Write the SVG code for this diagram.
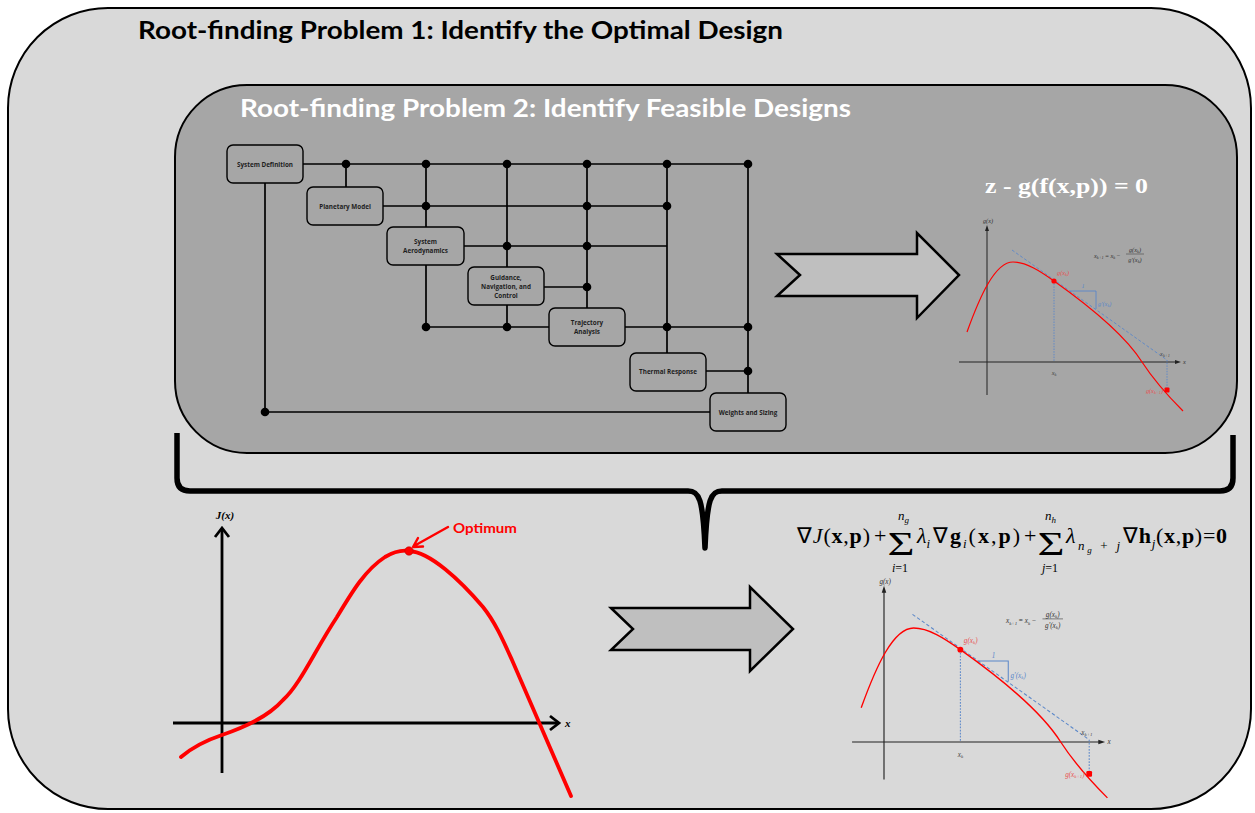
<svg xmlns="http://www.w3.org/2000/svg" xmlns:xlink="http://www.w3.org/1999/xlink" width="1255" height="813" viewBox="0 0 1255 813">
<style>
.frame{stroke:#000;stroke-width:2}
.title{font-family:Lato,"Open Sans",sans-serif;font-weight:bold;font-size:24px}
.node rect{fill:#a6a6a6;stroke:#000;stroke-width:1.4}
.node text{font-family:"Open Sans","Liberation Sans",sans-serif;font-weight:bold;font-size:6.3px;fill:#1e1e1e;text-anchor:middle}
.wire{fill:none;stroke:#000;stroke-width:1.7}
.dot{fill:#000}
.block{fill:#bfbfbf;stroke:#000;stroke-width:2.5;stroke-linejoin:miter}
.ser{font-family:"Liberation Serif",serif}
.gl{font-family:"Liberation Serif",serif;font-style:italic;font-size:6.3px}
.blue{stroke:#5a87c9;fill:none;stroke-width:0.9}
</style>
<defs>
<g id="nr">
  <path d="M0,-133 V33 M-28,0 H190" stroke="#222" stroke-width="1" fill="none"/>
  <path d="M0,-137 L-2,-131 L2,-131 Z M194,0 L188,-2 L188,2 Z" fill="#222"/>
  <text class="gl" x="1" y="-139" fill="#333" text-anchor="middle">g(x)</text>
  <text class="gl" x="196" y="2" fill="#333">x</text>
  <path class="blue" d="M25,-112 L180,-2" stroke-dasharray="3,2"/>
  <path class="blue" d="M67,-81 V0 M180,-2 V28" stroke-dasharray="1.5,1.2"/>
  <path class="blue" d="M83,-71 H109 V-53" stroke-width="1.2"/>
  <text class="gl" x="96" y="-74" fill="#5a87c9" text-anchor="middle">1</text>
  <text class="gl" x="111" y="-56" fill="#5a87c9">g'(x<tspan font-size="4.3" dy="1">k</tspan><tspan dy="-1">)</tspan></text>
  <path d="M-20,-30 C-7,-66 8,-100 26,-100 C39,-100 53,-91 67,-81 C98,-59 138,-27 155,0 C168,20 183,36 196,49" fill="none" stroke="#ff0000" stroke-width="1.2"/>
  <circle cx="67" cy="-81" r="2.6" fill="#ff0000"/>
  <rect x="177.5" y="25.5" width="5" height="5" rx="1" fill="#ff0000"/>
  <text class="gl" x="70" y="-87" fill="#e85050">g(x<tspan font-size="4.3" dy="1">k</tspan><tspan dy="-1">)</tspan></text>
  <text class="gl" x="67" y="13" fill="#444" text-anchor="middle">x<tspan font-size="4.3" dy="1">k</tspan></text>
  <text class="gl" x="178" y="-6" fill="#444" text-anchor="middle">x<tspan font-size="4.3" dy="1">k+1</tspan></text>
  <text class="gl" x="176" y="31" fill="#e85050" text-anchor="end">g(x<tspan font-size="4.3" dy="1">k+1</tspan><tspan dy="-1">)</tspan></text>
  <text class="gl" x="107" y="-104" fill="#333">x<tspan font-size="4.3" dy="1">k+1</tspan><tspan dy="-1" font-style="normal"> = </tspan>x<tspan font-size="4.3" dy="1">k</tspan><tspan dy="-1" font-style="normal"> −</tspan></text>
  <text class="gl" x="148" y="-110" fill="#333" text-anchor="middle">g(x<tspan font-size="4.3" dy="1">k</tspan><tspan dy="-1">)</tspan></text>
  <path d="M139,-108 H157" stroke="#333" stroke-width="0.5"/>
  <text class="gl" x="148" y="-100" fill="#333" text-anchor="middle">g'(x<tspan font-size="4.3" dy="1">k</tspan><tspan dy="-1">)</tspan></text>
</g>
</defs>

<g id="outer">
  <rect class="frame" x="8" y="8" width="1243" height="801" rx="100" ry="100" fill="#d9d9d9"/>
  <text class="title" x="138" y="39" fill="#000" textLength="645" lengthAdjust="spacingAndGlyphs">Root-finding Problem 1: Identify the Optimal Design</text>
</g>

<g id="inner">
  <rect class="frame" x="175" y="85" width="1062" height="368" rx="72" ry="72" fill="#a6a6a6"/>
  <text class="title" x="240" y="117" fill="#fff" textLength="611" lengthAdjust="spacingAndGlyphs">Root-finding Problem 2: Identify Feasible Designs</text>
</g>

<g id="connectors">
  <path class="wire" d="M303,164 H748 M346,164 V187 M383,206 H667 M426,164 V227 M426,265 V327 M464,246 H667 M507,164 V267 M507,305 V327 M544,287 H587 M587,164 V308 M426,327 H549 M625,327 H748 M667,164 V353 M706,371 H748 M748,164 V393 M265,183 V412 M265,412 H710"/>
  <g class="dot">
    <circle cx="346" cy="164" r="4.3"/><circle cx="426" cy="164" r="4.3"/><circle cx="507" cy="164" r="4.3"/><circle cx="587" cy="164" r="4.3"/><circle cx="667" cy="164" r="4.3"/><circle cx="748" cy="164" r="4.3"/>
    <circle cx="426" cy="206" r="4.3"/><circle cx="587" cy="206" r="4.3"/><circle cx="667" cy="206" r="4.3"/>
    <circle cx="507" cy="246" r="4.3"/><circle cx="587" cy="246" r="4.3"/>
    <circle cx="587" cy="287" r="4.3"/>
    <circle cx="426" cy="327" r="4.3"/><circle cx="507" cy="327" r="4.3"/><circle cx="667" cy="327" r="4.3"/><circle cx="748" cy="327" r="4.3"/>
    <circle cx="748" cy="371" r="4.3"/>
    <circle cx="265" cy="412" r="4.3"/>
  </g>
</g>

<g id="n-sysdef" class="node"><rect x="227" y="145" width="76" height="38" rx="6"/><text x="265" y="166.5">System Definition</text></g>
<g id="n-planet" class="node"><rect x="307" y="187" width="76" height="38" rx="6"/><text x="345" y="208.5">Planetary Model</text></g>
<g id="n-aero" class="node"><rect x="387" y="227" width="77" height="38" rx="6"/><text x="425.5" y="244">System</text><text x="425.5" y="253">Aerodynamics</text></g>
<g id="n-gnc" class="node"><rect x="468" y="267" width="76" height="38" rx="6"/><text x="506" y="279.5">Guidance,</text><text x="506" y="288.5">Navigation, and</text><text x="506" y="297.5">Control</text></g>
<g id="n-traj" class="node"><rect x="549" y="308" width="76" height="38" rx="6"/><text x="587" y="325">Trajectory</text><text x="587" y="334">Analysis</text></g>
<g id="n-thermal" class="node"><rect x="630" y="353" width="76" height="38" rx="6"/><text x="668" y="374">Thermal Response</text></g>
<g id="n-weights" class="node"><rect x="710" y="393" width="76" height="38" rx="6"/><text x="748" y="414.5">Weights and Sizing</text></g>

<g id="arrow-upper"><path class="block" d="M777,254 L800,275 L777,296 H917 V318 L959,275 L917,233 V254 Z"/></g>
<g id="arrow-lower"><path class="block" d="M611,608 L633,629 L611,650 H750 V671 L793,629 L750,587 V608 Z"/></g>

<g id="eq-upper">
  <text class="ser" x="985" y="193" font-size="22" font-weight="bold" fill="#fff" textLength="163" lengthAdjust="spacingAndGlyphs">z - g(f(x,p)) = 0</text>
</g>
<g id="graph-upper"><use xlink:href="#nr" href="#nr" transform="translate(987,362)"/></g>
<g id="graph-lower"><use xlink:href="#nr" href="#nr" transform="translate(884,742) scale(1.14)"/></g>

<g id="brace">
  <path d="M177,433 V478 Q177,491 190,491 H688 C699,491 703,498 705,548 C707,498 711,491 722,491 H1220 Q1233,491 1233,478 V435" fill="none" stroke="#000" stroke-width="5.5" stroke-linejoin="round" stroke-linecap="butt"/>
</g>

<g id="eq-lower" class="ser" fill="#000">
  <text x="797" y="543" font-size="22" textLength="73" lengthAdjust="spacing">∇<tspan font-style="italic">J</tspan>(<tspan font-weight="bold">x</tspan>,<tspan font-weight="bold">p</tspan>)</text>
  <text x="874" y="543" font-size="22">+</text>
  <text x="901" y="555" font-size="33" text-anchor="middle" textLength="27" lengthAdjust="spacingAndGlyphs">Σ</text>
  <text x="898" y="520" font-size="13" font-style="italic">n<tspan font-size="9" dy="3">g</tspan></text>
  <text x="900" y="572" font-size="12" text-anchor="middle"><tspan font-style="italic">i</tspan>=1</text>
  <text x="917" y="543" font-size="22" font-style="italic">λ<tspan font-size="13" dy="5">i</tspan></text>
  <text x="933" y="543" font-size="22" textLength="87" lengthAdjust="spacing">∇<tspan font-weight="bold">g</tspan><tspan font-size="13" font-style="italic" dy="5">i</tspan><tspan dy="-5">(</tspan><tspan font-weight="bold">x</tspan>,<tspan font-weight="bold">p</tspan>)</text>
  <text x="1024" y="543" font-size="22">+</text>
  <text x="1051" y="555" font-size="33" text-anchor="middle" textLength="27" lengthAdjust="spacingAndGlyphs">Σ</text>
  <text x="1045" y="520" font-size="13" font-style="italic">n<tspan font-size="9" dy="3">h</tspan></text>
  <text x="1050" y="572" font-size="12" text-anchor="middle"><tspan font-style="italic">j</tspan>=1</text>
  <text x="1066" y="543" font-size="22" font-style="italic">λ</text>
  <text x="1078" y="550" font-size="13" font-style="italic" textLength="42" lengthAdjust="spacing">n<tspan font-size="9" dy="3">g</tspan><tspan dy="-3" font-style="normal"> + </tspan>j</text>
  <text x="1123" y="543" font-size="22" textLength="104" lengthAdjust="spacing">∇<tspan font-weight="bold">h</tspan><tspan font-size="13" font-style="italic" dy="5">j</tspan><tspan dy="-5">(</tspan><tspan font-weight="bold">x</tspan>,<tspan font-weight="bold">p</tspan>)=<tspan font-weight="bold">0</tspan></text>
</g>

<g id="graph-objective">
  <path d="M222,530 V773 M173,723 H557" stroke="#000" stroke-width="2.8" fill="none"/>
  <path d="M215,537 L222,528 L229,537 M550,716 L559,723 L550,730" stroke="#000" stroke-width="2.8" fill="none"/>
  <text class="ser" x="225" y="519" font-size="11" font-weight="bold" font-style="italic" text-anchor="middle">J(x)</text>
  <text class="ser" x="565" y="727" font-size="11" font-weight="bold" font-style="italic">x</text>
  <path d="M181,757 C195,745 210,739 222,735 C245,727 268,717 283,700 C300,685 315,650 337,617 C352,592 365,570 385,557 C395,551 402,550 409,551 C430,552 460,580 483,607 C495,622 503,640 512,660 C525,690 545,735 571,796" fill="none" stroke="#ff0000" stroke-width="3.8" stroke-linecap="round"/>
  <circle cx="409" cy="551" r="4.2" fill="#ff0000" stroke="#c00000" stroke-width="0.6"/>
  <path d="M448,527 L414,546 M423,546.5 L413,547 L418,538" stroke="#ff0000" stroke-width="2.4" fill="none" stroke-linecap="round" stroke-linejoin="round"/>
  <text x="453" y="533" font-family="Lato,'Open Sans',sans-serif" font-weight="bold" font-size="14" fill="#ff0000" textLength="64" lengthAdjust="spacingAndGlyphs">Optimum</text>
</g>
</svg>
